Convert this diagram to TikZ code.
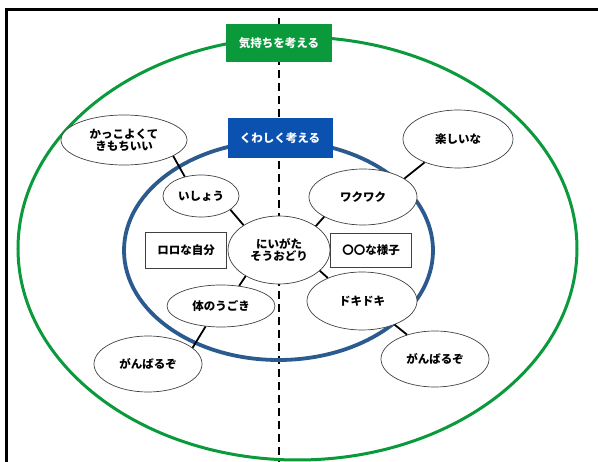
\documentclass[tikz,border=0pt]{standalone}
\usepackage{fontspec}
\setmainfont{Noto Sans CJK JP}
\usetikzlibrary{shapes.geometric}
\definecolor{kgreen}{HTML}{0A9A3C}
\definecolor{kblue}{HTML}{2B5A8E}
\definecolor{kboxblue}{HTML}{0B51B0}
\begin{document}
\begin{tikzpicture}[x=1pt,y=-1pt,
  bubble/.style={ellipse,draw=black!75,line width=0.7pt,fill=white,inner sep=0pt,align=center,font=\fontsize{11.5}{13.5}\selectfont\bfseries},
  tagbox/.style={rectangle,draw=black!75,line width=0.7pt,fill=white,inner sep=0pt,font=\fontsize{11.5}{13.5}\selectfont\bfseries},
  headbox/.style={rectangle,inner sep=0pt,text=white,font=\fontsize{11.5}{13.5}\selectfont\bfseries},
  link/.style={draw=black,line width=1.8pt}]
\useasboundingbox (0,0) rectangle (598,462);
% frame
\draw[line width=3pt] (5,9.5) -- (598,9.5);
\draw[line width=3pt] (6.5,8) -- (6.5,462);
% dashed axis
\coordinate (axtop) at (279,18);
\coordinate (axbot) at (279,462);
\draw[line width=1.8pt,dash pattern=on 8pt off 5pt] (axtop) -- (axbot);
% big ellipses
\draw[kgreen,line width=3pt] (297.5,248.5) ellipse [x radius=279.5,y radius=211.5];
\draw[kblue,line width=3.8pt] (278.5,250.5) ellipse [x radius=154.5,y radius=109.5];
% header boxes
\node[headbox,fill=kgreen,minimum width=106pt,minimum height=38pt] (hg) at (279,43) {気持ちを考える};
\node[headbox,fill=kboxblue,minimum width=105pt,minimum height=40pt] (hb) at (280,138) {くわしく考える};
% bubbles
\node[bubble,minimum width=126pt,minimum height=50pt] (kakko) at (124,140) {かっこよくて\\[-2pt]きもちいい};
\node[bubble,minimum width=76pt,minimum height=42pt] (ishou) at (201,196) {いしょう};
\node[bubble,minimum width=110pt,minimum height=58pt] (tano) at (458,139) {楽しいな};
\node[bubble,minimum width=108pt,minimum height=56pt] (waku) at (363,197) {ワクワク};
\node[bubble,minimum width=102pt,minimum height=68pt] (cen) at (279,250) {にいがた\\[-2pt]そうおどり};
\node[bubble,minimum width=108pt,minimum height=42pt] (kara) at (221,306) {体のうごき};
\node[bubble,minimum width=110pt,minimum height=58pt] (doki) at (362,301) {ドキドキ};
\node[bubble,minimum width=108pt,minimum height=56pt] (ganR) at (435,359) {がんばるぞ};
\node[bubble,minimum width=108pt,minimum height=56pt] (ganL) at (148,364) {がんばるぞ};
% tag boxes
\node[tagbox,minimum width=81pt,minimum height=36pt] (jibun) at (186,250) {ロロな自分};
\node[tagbox,minimum width=81pt,minimum height=34pt] (yousu) at (371,250) {〇〇な様子};
% links
\draw[link] (kakko.-18) -- (ishou.130);
\draw[link] (ishou.-25) -- (cen.145);
\draw[link] (waku.24) -- (tano.215);
\draw[link] (waku.207) -- (cen.33);
\draw[link] (cen.-27) -- (doki.146);
\draw[link] (doki.-36) -- (ganR.139);
\draw[link] (cen.218) -- (kara.48);
\draw[link] (kara.233) -- (ganL.20);
\end{tikzpicture}
\end{document}
